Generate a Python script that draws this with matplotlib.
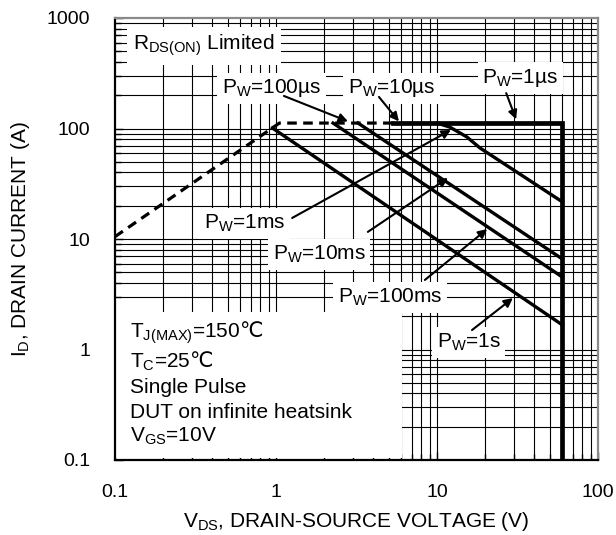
import matplotlib
matplotlib.use('Agg')
import matplotlib.pyplot as plt
from matplotlib.patches import Rectangle
from matplotlib.ticker import NullFormatter

plt.rcParams['font.family'] = ['Liberation Sans', 'DejaVu Sans']
plt.rcParams['mathtext.fontset'] = 'custom'
plt.rcParams['mathtext.rm'] = 'Liberation Sans'
plt.rcParams['mathtext.it'] = 'Liberation Sans'
plt.rcParams['mathtext.bf'] = 'Liberation Sans:bold'
plt.rcParams['mathtext.sf'] = 'Noto Sans CJK SC'
plt.rcParams['mathtext.default'] = 'regular'

# ---- data ----
rds_limit_v = [0.1, 1.05, 5.3]
rds_limit_i = [10.5, 112, 112]

pw_flat_v = [5.3, 60, 60]
pw_flat_i = [112, 112, 0.1]

curve_a_v = [10.0, 12.0, 15.3, 18.5, 60]
curve_a_i = [112, 103, 84, 66.6, 21.7]

curve_b_v = [3.23, 60]
curve_b_i = [112, 6.6]

curve_c_v = [2.26, 60]
curve_c_i = [112, 4.53]

curve_d_v = [0.95, 60]
curve_d_i = [101, 1.67]

x_ticks = [0.1, 1, 10, 100]
x_tick_labels = ['0.1', '1', '10', '100']
y_ticks = [0.1, 1, 10, 100, 1000]
y_tick_labels = ['0.1', '1', '10', '100', '1000']

# labels: (text, text position, arrow tail, arrow head)
pulse_labels = [
    ('P$_W$=100µs', (0.462, 209), (1.12, 197), (2.8, 116)),
    ('P$_W$=10µs', (2.80, 209), (4.36, 193), (5.8, 116)),
    ('P$_W$=1µs', (19.1, 258), (26.9, 209), (31, 121)),
    ('P$_W$=1ms', (0.357, 12.3), (1.26, 15.5), (12.2, 97)),
    ('P$_W$=10ms', (0.958, 6.45), (3.72, 11.6), (11.7, 35.7)),
    ('P$_W$=100ms', (2.43, 2.64), (8.41, 4.26), (20.5, 12.3)),
    ('P$_W$=1s', (10.0, 1.03), (16.5, 1.50), (29.6, 2.92)),
]

info_lines = [
    'T$_{J(MAX)}$=150$\\mathsf{℃}$',
    'T$_C$=25$\\mathsf{℃}$',
    'Single Pulse',
    'DUT on infinite heatsink',
    'V$_{GS}$=10V',
]
info_y = [1.27, 0.681, 0.404, 0.240, 0.146]

fig = plt.figure(figsize=(6.16, 5.35), dpi=100)
ax = fig.add_axes([115 / 616, 75 / 535, 483 / 616, 442 / 535])
ax.set_xscale('log')
ax.set_yscale('log')
ax.set_xlim(0.1, 100)
ax.set_ylim(0.1, 1000)

# manual grid (so the white boxes can cover it while ticks stay on top)
grid_x = [k * 10.0 ** e for e in (-1, 0, 1) for k in range(1, 10)]
grid_y = [k * 10.0 ** e for e in (-1, 0, 1, 2) for k in range(1, 10)]
for gx in grid_x[1:]:
    ax.axvline(gx, color='black', lw=0.8, zorder=1)
for gy in grid_y[1:]:
    ax.axhline(gy, color='black', lw=0.8, zorder=1)

# white info box
ax.add_patch(Rectangle((0, 0.004), 0.594, 0.331, transform=ax.transAxes,
                       facecolor='white', edgecolor='none', zorder=2))

# curves
ax.plot(rds_limit_v, rds_limit_i, color='black', lw=2.3, dashes=(3, 2),
        zorder=4, solid_capstyle='butt')
ax.plot(pw_flat_v, pw_flat_i, color='black', lw=3.4, zorder=4,
        solid_joinstyle='miter')
for vv, ii in [(curve_a_v, curve_a_i), (curve_b_v, curve_b_i),
               (curve_c_v, curve_c_i), (curve_d_v, curve_d_i)]:
    ax.plot(vv, ii, color='black', lw=2.4, zorder=4)

fs = 15
box = dict(boxstyle='square,pad=0.22', facecolor='white', edgecolor='none')

ax.text(0.129, 513, 'R$_{DS(ON)}$ Limited', fontsize=fs, ha='left',
        va='baseline', bbox=dict(boxstyle='square,pad=0.3', facecolor='white',
                                 edgecolor='none'), zorder=3)

for txt, tpos, tail, head in pulse_labels:
    ax.text(tpos[0], tpos[1], txt, fontsize=fs, ha='left', va='baseline',
            bbox=box, zorder=3)
    ax.annotate('', xy=head, xytext=tail,
                arrowprops=dict(arrowstyle='-|>', color='black', lw=1.5,
                                mutation_scale=13, shrinkA=0, shrinkB=0),
                zorder=5)

for txt, yy in zip(info_lines, info_y):
    ax.text(0.124, yy, txt, fontsize=fs, ha='left', va='baseline', zorder=3)

# axes styling
ax.set_xticks(x_ticks, x_tick_labels)
ax.set_yticks(y_ticks, y_tick_labels)
ax.xaxis.set_minor_formatter(NullFormatter())
ax.yaxis.set_minor_formatter(NullFormatter())
ax.tick_params(which='both', direction='in', top=False, right=False,
               labelsize=14, width=1.0)
ax.tick_params(axis='x', which='major', pad=17, length=6)
ax.tick_params(axis='y', which='major', pad=18, length=6)
ax.tick_params(which='minor', length=4)

for s in ('left', 'bottom'):
    ax.spines[s].set_color('black')
    ax.spines[s].set_linewidth(1.6)
for s in ('top', 'right'):
    ax.spines[s].set_color('#8a8a8a')
    ax.spines[s].set_linewidth(1.6)

ax.set_xlabel('V$_{DS}$, DRAIN-SOURCE VOLTAGE (V)', fontsize=fs)
ax.set_ylabel('I$_D$, DRAIN CURRENT (A)', fontsize=fs)
ax.xaxis.set_label_coords(0.5, -0.112)
ax.yaxis.set_label_coords(-0.172, 0.5)

fig.savefig('out.png', dpi=100)
